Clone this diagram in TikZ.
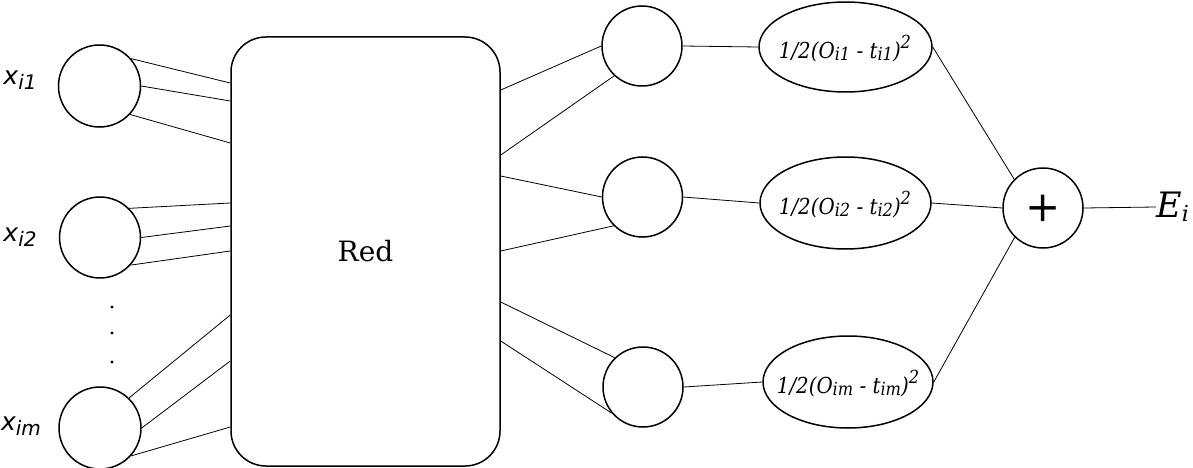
\documentclass[tikz,border=0pt]{standalone}
\usepackage{fontspec}
\usepackage{graphicx}
\setmainfont{DejaVu Serif}
\newfontfamily\dvsans{DejaVu Sans}
\usetikzlibrary{shapes.geometric}
\newcommand\lowtxt[3]{\raisebox{-#2pt}{\fontsize{#1}{#1}\selectfont #3}}
\newcommand\hightxt[3]{\raisebox{#2pt}{\fontsize{#1}{#1}\selectfont #3}}
\newcommand\errtxt[1]{\scalebox{0.9}[1]{1/2(O\lowtxt{18}{2}{#1} - t\lowtxt{18}{2}{#1})\hightxt{18}{10}{2}}}
\begin{document}
\begin{tikzpicture}[x=1pt,y=-1pt,
  neuron/.style={circle,draw,line width=1.5pt,inner sep=0pt,minimum size=80pt},
  errnode/.style={ellipse,draw,line width=1.5pt,inner sep=0pt},
  errlab/.style={font=\fontsize{22}{22}\selectfont\itshape,inner sep=0pt},
  conn/.style={line width=0.8pt},
  xlab/.style={inner sep=0pt,font=\dvsans\itshape\fontsize{25}{25}\selectfont},
  dotnode/.style={circle,fill,inner sep=0pt,minimum size=3.2pt}]
\useasboundingbox (0,0) rectangle (1193,468);
% input circles
\node[neuron,minimum size=82pt] (c1) at (99.5,86) {};
\node[neuron,minimum size=81pt] (c2) at (100,237.5) {};
\node[neuron,minimum size=82pt] (c3) at (100,428) {};
\node[xlab] (x1) at (20,80) {x\lowtxt{20}{5}{i1}};
\node[xlab] (x2) at (20,237) {x\lowtxt{20}{5}{i2}};
\node[xlab] (x3) at (21,426) {x\lowtxt{20}{5}{im}};
\node[dotnode] (d1) at (112,307) {};
\node[dotnode] (d2) at (112,333) {};
\node[dotnode] (d3) at (112,362) {};
% network box
\node[draw,line width=1.5pt,rounded corners=35pt,minimum width=269pt,minimum height=429pt,inner sep=0pt,font=\fontsize{28}{28}\selectfont] (red) at (365.5,251.5) {Red};
% left edge points
\coordinate (la1) at (red.west |- 0,83);
\coordinate (la2) at (red.west |- 0,101);
\coordinate (la3) at (red.west |- 0,143);
\coordinate (lb1) at (red.west |- 0,203);
\coordinate (lb2) at (red.west |- 0,226);
\coordinate (lb3) at (red.west |- 0,251);
\coordinate (lc1) at (red.west |- 0,315);
\coordinate (lc2) at (red.west |- 0,361);
\coordinate (lc3) at (red.west |- 0,427);
% right edge points
\coordinate (ra1) at (red.east |- 0,90);
\coordinate (ra2) at (red.east |- 0,155);
\coordinate (rb1) at (red.east |- 0,176);
\coordinate (rb2) at (red.east |- 0,251);
\coordinate (rc1) at (red.east |- 0,302);
\coordinate (rc2) at (red.east |- 0,341);
% hidden / output circles
\node[neuron] (h1) at (642,46) {};
\node[neuron] (h2) at (642.5,197) {};
\node[neuron] (h3) at (643,387) {};
% error ellipses
\node[errnode,minimum width=173pt,minimum height=90pt] (e1) at (845.5,47) {};
\node[errnode,minimum width=171pt,minimum height=92pt] (e2) at (845.5,203) {};
\node[errnode,minimum width=170pt,minimum height=92pt] (e3) at (848,382) {};
\node[errlab] (t1) at (845,49) {\errtxt{i1}};
\node[errlab] (t2) at (845,205) {\errtxt{i2}};
\node[errlab] (t3) at (848,384) {\errtxt{im}};
% sum
\node[neuron,font=\dvsans\fontsize{42}{42}\selectfont] (sum) at (1043,208) {\raisebox{-1pt}{+}};
\node[inner sep=0pt,anchor=west,font=\itshape\fontsize{35}{35}\selectfont] (E) at (1156,207) {E\lowtxt{22}{4}{i}};
% connectors input -> box
\draw[conn] (c1.41.5) -- (la1);
\draw[conn] (c1.0) -- (la2);
\draw[conn] (c1.-43.5) -- (la3);
\draw[conn] (c2.45) -- (lb1);
\draw[conn] (c2.0) -- (lb2);
\draw[conn] (c2.-42.5) -- (lb3);
\draw[conn] (c3.46) -- (lc1);
\draw[conn] (c3.0) -- (lc2);
\draw[conn] (c3.-42) -- (lc3);
% box -> hidden
\draw[conn] (ra1) -- (h1.180);
\draw[conn] (ra2) -- (h1.227);
\draw[conn] (rb1) -- (h2.180);
\draw[conn] (rb2) -- (h2.225.5);
\draw[conn] (rc1) -- (h3.134);
\draw[conn] (rc2) -- (h3.220);
% hidden -> error
\draw[conn] (h1.east) -- (e1.west);
\draw[conn] (h2.east) -- (e2.west);
\draw[conn] (h3.east) -- (e3.west);
% error -> sum
\draw[conn] (e1.east) -- (sum.135);
\draw[conn] (e2.east) -- (sum.west);
\draw[conn] (e3.east) -- (sum.226);
\draw[conn] (sum.east) -- (E.west);
\end{tikzpicture}
\end{document}
